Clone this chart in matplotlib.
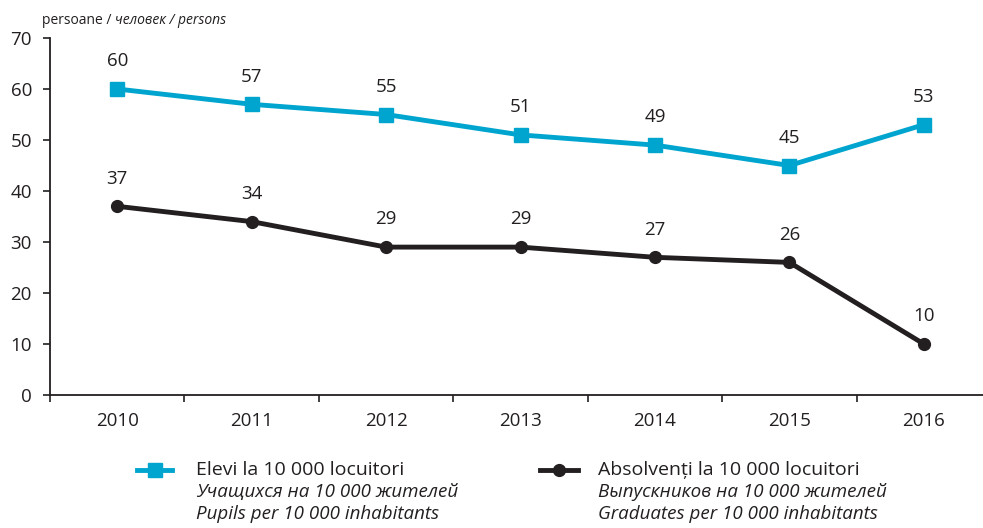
import matplotlib

matplotlib.use("Agg")
import matplotlib.pyplot as plt
from matplotlib.lines import Line2D

plt.rcParams["font.family"] = ["Open Sans", "DejaVu Sans"]

years = ["2010", "2011", "2012", "2013", "2014", "2015", "2016"]
pupils = [60, 57, 55, 51, 49, 45, 53]
graduates = [37, 34, 29, 29, 27, 26, 10]
pupils_label = ["Elevi la 10 000 locuitori", "Учащихся на 10 000 жителей",
                "Pupils per 10 000 inhabitants"]
grad_label = ["Absolvenți la 10 000 locuitori", "Выпускников на 10 000 жителей",
              "Graduates per 10 000 inhabitants"]

CYAN = "#00A5CF"
DARK = "#231F20"
LW = 3.5

fig = plt.figure(figsize=(9.83, 5.28), dpi=100)
ax = fig.add_axes([0.0509, 0.2519, 0.9491, 0.6761])

x = list(range(len(years)))
ax.plot(x, pupils, color=CYAN, lw=LW, marker="s", ms=9.5)
ax.plot(x, graduates, color=DARK, lw=LW, marker="o", ms=8.5)

for series in (pupils, graduates):
    for xi, v in zip(x, series):
        ax.annotate(str(v), (xi, v), xytext=(0, 20), textcoords="offset points",
                    ha="center", va="center", fontsize=13.5, color=DARK)

ax.set_xlim(-0.49, 6.44)
ax.set_ylim(0, 70)
ax.set_yticks(range(0, 71, 10))
# year ticks sit between categories, labels centred on them
ax.set_xticks([i - 0.5 for i in x])
ax.set_xticklabels([])
ax.set_xticks(x, minor=True)
ax.set_xticklabels(years, minor=True)
ax.tick_params(axis="x", which="minor", length=0, pad=12, labelsize=13.5, labelcolor=DARK)
ax.tick_params(axis="x", which="major", length=5, width=1.2, color=DARK, direction="out")
ax.tick_params(axis="y", length=5, width=1.2, color=DARK, pad=8, labelsize=13.5, labelcolor=DARK)
for side in ["top", "right"]:
    ax.spines[side].set_visible(False)
for side in ["left", "bottom"]:
    ax.spines[side].set_color(DARK)
    ax.spines[side].set_linewidth(1.3)
ax.grid(False)

# unit label above the y axis
t1 = fig.text(42 / 983, 1 - 24 / 528, "persoane / ", fontsize=10, color=DARK, va="baseline")
ax.annotate("человек / persons", xy=(1, 0), xycoords=t1, va="bottom", ha="left",
            fontsize=10, style="italic", color=DARK, annotation_clip=False)


# legend drawn by hand (three-language labels)
def legend_entry(x0, x1, tx, color, marker, ms, labels):
    y = 1 - 470 / 528
    fig.add_artist(Line2D([x0 / 983, x1 / 983], [y, y], transform=fig.transFigure,
                          color=color, lw=LW))
    fig.add_artist(Line2D([(x0 + x1) / 2 / 983], [y], transform=fig.transFigure,
                          color=color, marker=marker, ms=ms, lw=0))
    for i, lab in enumerate(labels):
        fig.text(tx / 983, y - i * 22 / 528, lab, fontsize=14 if i == 0 else 13.5,
                 color=DARK, va="center", style="normal" if i == 0 else "italic")


legend_entry(137, 172, 196, CYAN, "s", 9.5, pupils_label)
legend_entry(540, 578, 598, DARK, "o", 8.5, grad_label)

fig.savefig("out.png", dpi=100)
